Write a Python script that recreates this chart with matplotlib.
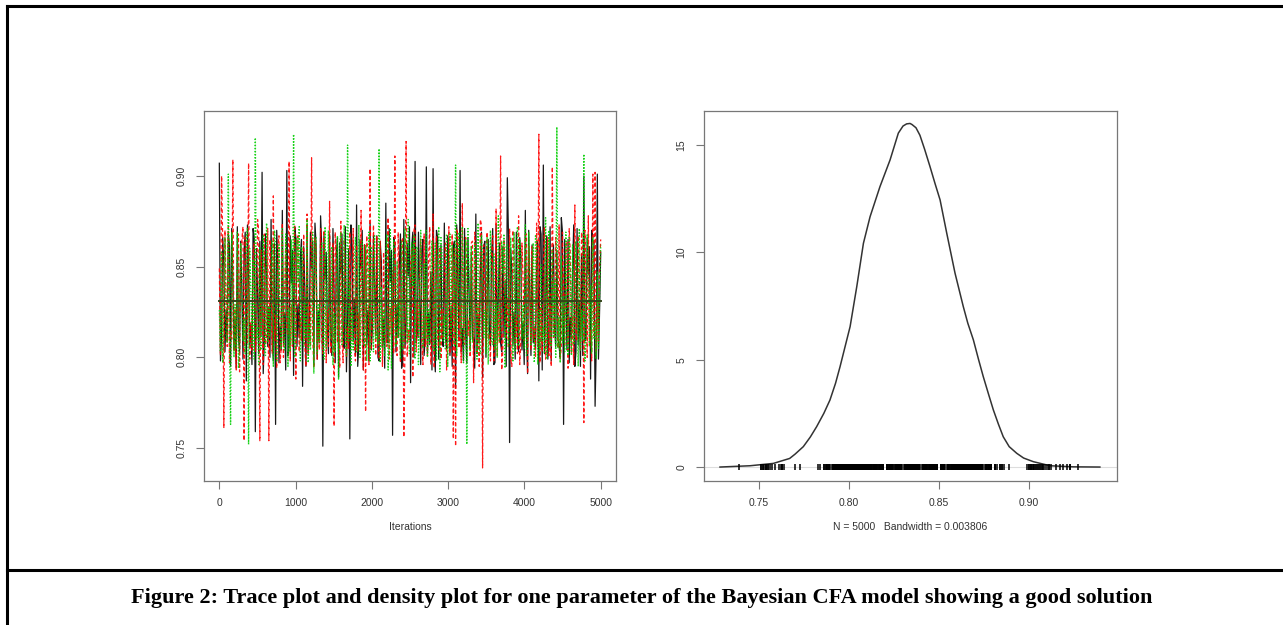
import numpy as np
import matplotlib
matplotlib.use("Agg")
import matplotlib.pyplot as plt

# trace values (thousandths), one list per chain
# the *_mid lists are the samples in between, which fill the dense band
chain_black = [
    907, 812, 851, 826, 868, 795, 843, 821, 872, 803,
    838, 859, 787, 846, 818, 871, 759, 835, 864, 902,
    809, 847, 828, 876, 798, 763, 852, 817, 881, 824,
    903, 806, 841, 790, 866, 829, 855, 784, 837, 873,
    814, 849, 796, 862, 825, 878, 751, 843, 819, 868,
    801, 834, 857, 789, 846, 812, 872, 823, 755, 861,
    832, 884, 807, 849, 793, 858, 826, 874, 815, 839,
    867, 798, 853, 821, 885, 808, 842, 757, 863, 829,
    851, 794, 876, 818, 845, 786, 869, 908, 813, 838,
    859, 801, 905, 824, 847, 904, 792, 866, 831, 812,
    874, 805, 852, 827, 861, 783, 843, 903, 816, 871,
    797, 835, 858, 811, 879, 823, 846, 789, 864, 829,
    817, 856, 796, 873, 834, 808, 861, 842, 899, 753,
    848, 825, 869, 803, 855, 819, 881, 791, 837, 862,
    814, 851, 787, 868, 906, 828, 799, 872, 843, 816,
    859, 806, 877, 763, 834, 865, 822, 848, 795, 871,
    831, 857, 900, 812, 846, 788, 864, 773, 901, 826,
]
chain_black_mid = [
    798, 866, 803, 809, 862, 871, 805, 794, 811, 864,
    799, 869, 873, 807, 796, 866, 860, 802, 812, 791,
    868, 806, 800, 810, 863, 870, 797, 804, 808, 793,
    801, 867, 859, 872, 806, 811, 865, 861, 795, 803,
    869, 864, 874, 799, 808, 862, 867, 858, 802, 810,
    871, 797, 866, 863, 868, 805, 792, 860, 873, 809,
    801, 795, 865, 870, 862, 807, 798, 804, 867, 812,
    800, 864, 806, 794, 809, 871, 859, 866, 803, 811,
    868, 797, 805, 863, 872, 861, 800, 808, 869, 796,
    865, 810, 802, 807, 793, 804, 870, 799, 862, 806,
    811, 867, 801, 795, 864, 873, 809, 803, 798, 812,
    866, 805, 810, 794, 802, 808, 869, 861, 800, 865,
    806, 871, 797, 809, 863, 803, 811, 795, 868, 860,
    807, 799, 810, 866, 804, 796, 812, 870, 801, 808,
    805, 864, 872, 793, 802, 867, 809, 798, 862, 806,
    811, 800, 869, 865, 804, 797, 810, 873, 803, 807,
    795, 801, 809, 866, 861, 870, 863, 805, 799, 858,
]
chain_red = [
    849, 900, 761, 836, 872, 814, 909, 827, 855, 792,
    864, 754, 841, 907, 819, 858, 803, 876, 754, 833,
    868, 811, 754, 847, 889, 823, 861, 797, 874, 836,
    815, 908, 829, 852, 788, 867, 821, 845, 806, 879,
    832, 910, 794, 859, 818, 871, 802, 844, 826, 886,
    811, 762, 853, 829, 875, 797, 848, 817, 869, 835,
    806, 862, 824, 881, 793, 770, 851, 904, 818, 843,
    867, 799, 836, 858, 812, 877, 827, 848, 911, 801,
    839, 864, 756, 919, 815, 852, 789, 873, 831, 846,
    808, 868, 823, 855, 796, 879, 834, 812, 861, 827,
    849, 793, 872, 818, 755, 751, 866, 829, 885, 807,
    844, 821, 863, 786, 852, 830, 876, 739, 841, 869,
    813, 857, 798, 882, 826, 911, 804, 847, 833, 871,
    795, 856, 822, 878, 809, 843, 867, 791, 838, 861,
    817, 874, 923, 828, 852, 799, 866, 835, 905, 812,
    848, 873, 806, 839, 861, 794, 857, 823, 884, 810,
    845, 869, 764, 836, 878, 815, 901, 902, 829, 851,
]
chain_red_mid = [
    801, 864, 870, 806, 797, 810, 803, 793, 868, 861,
    872, 866, 808, 799, 804, 863, 811, 869, 859, 796,
    807, 871, 865, 802, 809, 794, 867, 805, 800, 862,
    812, 798, 806, 873, 864, 803, 809, 868, 795, 801,
    807, 811, 866, 799, 804, 810, 870, 797, 806, 802,
    863, 869, 808, 794, 812, 865, 800, 805, 809, 871,
    798, 803, 807, 811, 862, 867, 796, 804, 873, 801,
    808, 864, 795, 810, 806, 799, 812, 802, 807, 869,
    797, 866, 805, 800, 809, 861, 870, 803, 811, 865,
    796, 806, 801, 872, 808, 794, 867, 804, 799, 810,
    863, 807, 802, 868, 860, 871, 805, 797, 809, 866,
    812, 800, 864, 869, 803, 795, 873, 862, 806, 810,
    798, 867, 804, 801, 808, 793, 865, 811, 805, 799,
    870, 807, 802, 796, 863, 809, 868, 861, 804, 810,
    800, 806, 797, 803, 872, 808, 801, 795, 811, 866,
    805, 799, 869, 807, 864, 871, 802, 796, 809, 867,
    804, 862, 870, 800, 806, 798, 812, 803, 808, 865,
]
chain_green = [
    826, 858, 837, 812, 901, 763, 847, 829, 869, 805,
    843, 821, 866, 752, 838, 854, 921, 817, 861, 832,
    809, 874, 828, 847, 795, 862, 836, 819, 871, 804,
    851, 827, 865, 923, 812, 841, 798, 857, 833, 876,
    818, 849, 791, 866, 829, 853, 807, 872, 838, 815,
    861, 824, 846, 788, 869, 833, 810, 917, 842, 826,
    855, 803, 873, 836, 819, 862, 831, 798, 848, 867,
    814, 915, 839, 826, 858, 793, 871, 845, 817, 853,
    832, 864, 808, 847, 876, 821, 839, 799, 861, 834,
    816, 852, 870, 827, 844, 805, 863, 838, 792, 857,
    823, 868, 841, 811, 849, 906, 834, 819, 872, 828,
    752, 845, 861, 813, 836, 874, 802, 853, 826, 866,
    839, 808, 857, 831, 878, 815, 846, 794, 862, 835,
    821, 869, 843, 806, 855, 829, 873, 812, 849, 838,
    797, 864, 826, 851, 817, 877, 834, 808, 859, 842,
    927, 822, 856, 833, 869, 801, 845, 862, 818, 837,
    871, 826, 912, 809, 853, 840, 866, 819, 847, 834,
]
chain_green_mid = [
    803, 797, 866, 808, 811, 869, 800, 805, 794, 863,
    809, 802, 871, 860, 806, 799, 810, 796, 804, 867,
    801, 808, 812, 864, 870, 798, 862, 805, 809, 868,
    795, 803, 807, 800, 866, 872, 861, 806, 811, 797,
    804, 869, 865, 802, 808, 863, 799, 805, 870, 810,
    796, 803, 867, 862, 807, 873, 801, 809, 795, 804,
    866, 812, 800, 864, 806, 798, 869, 861, 803, 810,
    807, 797, 805, 801, 868, 809, 794, 865, 806, 811,
    799, 804, 871, 808, 802, 863, 867, 860, 796, 870,
    805, 810, 800, 807, 864, 803, 798, 872, 866, 809,
    804, 795, 868, 862, 806, 801, 869, 810, 797, 865,
    871, 803, 808, 863, 799, 805, 867, 811, 802, 796,
    870, 807, 804, 800, 809, 864, 868, 861, 806, 866,
    798, 803, 872, 865, 810, 805, 801, 869, 807, 863,
    867, 796, 804, 809, 802, 799, 870, 806, 811, 800,
    805, 797, 808, 803, 810, 866, 801, 807, 864, 795,
    804, 809, 798, 868, 806, 802, 810, 799, 805, 862,
]
smooth_level = 0.8311
n_iter = 5000

# density curve
dens_x = [0.7283, 0.745, 0.758, 0.767, 0.7700, 0.7746, 0.7785, 0.782, 0.7860,
          0.7894, 0.7925, 0.795, 0.8006, 0.8043, 0.808, 0.8117, 0.8172, 0.8228,
          0.8274, 0.8300, 0.8320, 0.8339, 0.8350, 0.8372, 0.8394, 0.8420,
          0.845, 0.8478, 0.8506, 0.8543, 0.8589, 0.8635, 0.8660, 0.8691, 0.8720,
          0.8746, 0.8775, 0.8802, 0.8830, 0.8857, 0.8890, 0.8932, 0.8970,
          0.9024, 0.9117, 0.9246, 0.9394]
dens_y = [0.0, 0.06, 0.17, 0.40, 0.60, 0.95, 1.40, 1.88, 2.50, 3.12, 3.90,
          4.67, 6.54, 8.40, 10.42, 11.66, 13.06, 14.3, 15.55, 15.88, 15.98,
          16.0, 15.95, 15.8, 15.45, 14.8, 13.99, 13.2, 12.44, 10.89, 9.03,
          7.47, 6.70, 5.92, 5.00, 4.21, 3.40, 2.66, 2.00, 1.41, 0.95, 0.64,
          0.42, 0.25, 0.06, 0.01, 0.0]

trace_xticks = [0, 1000, 2000, 3000, 4000, 5000]
trace_yticks = [0.75, 0.80, 0.85, 0.90]
dens_xticks = [0.75, 0.80, 0.85, 0.90]
dens_yticks = [0, 5, 10, 15]

caption = "Figure 2: Trace plot and density plot for one parameter of the Bayesian CFA model showing a good solution"

plt.rcParams['font.family'] = ['Liberation Sans', 'DejaVu Sans']

fig = plt.figure(figsize=(12.83, 6.25), dpi=100)

ax1 = fig.add_axes([0.1590, 0.2304, 0.3211, 0.5920])
ax2 = fig.add_axes([0.5487, 0.2304, 0.3219, 0.5920])


def interleave(a, b):
    out = np.empty(len(a) + len(b))
    out[0::2] = a
    out[1::2] = b
    return out / 1000


chains = [interleave(chain_black, chain_black_mid),
          interleave(chain_red, chain_red_mid),
          interleave(chain_green, chain_green_mid)]
iters = np.linspace(1, n_iter, len(chains[0]))
styles = [('black', '-', 0.9), ('#ff0000', (0, (3, 2)), 0.9), ('#00cd00', (0, (1, 1.2)), 1.0)]
for vals, (col, ls, lw) in zip(chains, styles):
    ax1.plot(iters, vals, color=col, linestyle=ls, linewidth=lw, alpha=0.9)
ax1.plot([1, n_iter], [smooth_level, smooth_level], color='#34441a', linewidth=1.4)

ax1.set_xlim(-200, 5200)
ax1.set_ylim(0.7318, 0.9358)
ax1.set_xticks(trace_xticks)
ax1.set_yticks(trace_yticks)
ax1.set_yticklabels(["%.2f" % v for v in trace_yticks], rotation=90, va='center')
ax1.set_xlabel("Iterations", fontsize=7.5, color='#333333', labelpad=10)

ax2.axhline(0, color='#dddddd', linewidth=0.8)
ax2.plot(dens_x, dens_y, color='#333333', linewidth=1.1)
allvals = np.concatenate(chains)
ax2.plot(allvals, np.zeros_like(allvals), linestyle='none', marker='|',
         markersize=5, markeredgewidth=1.1, color='black')
ax2.set_xlim(0.7194, 0.9489)
ax2.set_ylim(-0.65, 16.58)
ax2.set_xticks(dens_xticks)
ax2.set_yticks(dens_yticks)
ax2.set_yticklabels([str(v) for v in dens_yticks], rotation=90, va='center')
ax2.set_xlabel("N = 5000   Bandwidth = 0.003806", fontsize=7.5, color='#333333', labelpad=10)

for ax in (ax1, ax2):
    for sp in ax.spines.values():
        sp.set_color('#777777')
        sp.set_linewidth(0.9)
    ax.tick_params(length=5.5, width=0.8, color='#777777', labelsize=7.5,
                   labelcolor='#333333', pad=7)

# page frame and caption
lw_frame = 2.2
fig.add_artist(plt.Line2D([0.00546, 1.0], [0.9912, 0.9912], color='black', linewidth=lw_frame))
fig.add_artist(plt.Line2D([0.00546, 0.00546], [0.0, 0.9912], color='black', linewidth=lw_frame))
fig.add_artist(plt.Line2D([0.00546, 1.0], [0.088, 0.088], color='black', linewidth=lw_frame))
fig.text(0.5, 0.043, caption, ha='center', va='center', fontsize=16,
         fontweight='bold', family=['Liberation Serif', 'DejaVu Serif'])

fig.savefig("out.png", dpi=100)
